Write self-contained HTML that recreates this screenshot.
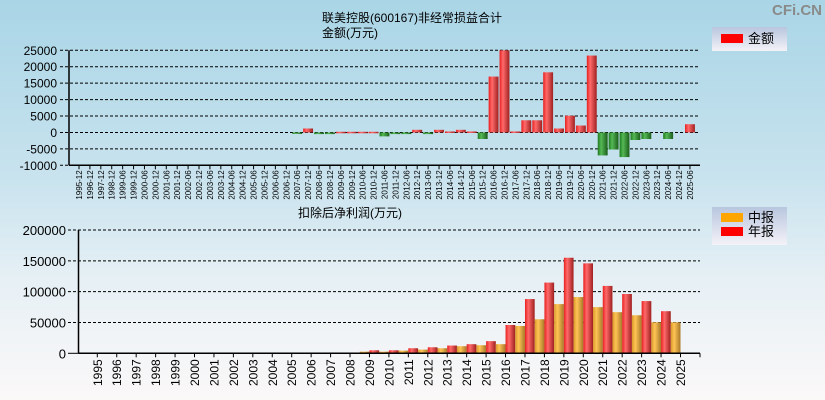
<!DOCTYPE html>
<html><head><meta charset="utf-8">
<style>
body{margin:0;}
#wrap{width:825px;height:400px;position:relative;overflow:hidden;background:linear-gradient(#a9d5e6 0%,#c9e3ee 45%,#e6f0f5 70%,#fbf8f8 100%);font-family:"Liberation Sans","Noto Sans CJK SC",sans-serif;}
svg{position:absolute;left:0;top:0;}
</style></head><body>
<div id="wrap">
<svg id="s" width="825" height="400">
<defs>
<linearGradient id="gr" x1="0" x2="1"><stop offset="0" stop-color="#e82020"/><stop offset="0.35" stop-color="#ff6a6a"/><stop offset="1" stop-color="#a02020"/></linearGradient>
<linearGradient id="gg" x1="0" x2="1"><stop offset="0" stop-color="#1d7a1d"/><stop offset="0.35" stop-color="#55b855"/><stop offset="1" stop-color="#1a5e1a"/></linearGradient>
<linearGradient id="go" x1="0" x2="1"><stop offset="0" stop-color="#d8992a"/><stop offset="0.35" stop-color="#ffc455"/><stop offset="1" stop-color="#a8782a"/></linearGradient>
<linearGradient id="lg" x1="0" y1="0" x2="0" y2="1"><stop offset="0" stop-color="#b8c6de"/><stop offset="1" stop-color="#f4f2f8"/></linearGradient>
</defs>
</svg>
</div>
<script>
const topCats=["1995-12","1996-12","1997-12","1998-12","1999-06","1999-12","2000-06","2000-12","2001-06","2001-12","2002-06","2002-12","2003-06","2003-12","2004-06","2004-12","2005-06","2005-12","2006-06","2006-12","2007-06","2007-12","2008-06","2008-12","2009-06","2009-12","2010-06","2010-12","2011-06","2011-12","2012-06","2012-12","2013-06","2013-12","2014-06","2014-12","2015-06","2015-12","2016-06","2016-12","2017-06","2017-12","2018-06","2018-12","2019-06","2019-12","2020-06","2020-12","2021-06","2021-12","2022-06","2022-12","2023-06","2023-12","2024-06","2024-12","2025-06"];
const topVals=[0,0,0,0,0,0,0,0,0,0,0,0,0,0,0,0,0,0,0,0,-300,1200,-500,-500,200,200,200,200,-1200,-500,-500,800,-500,800,300,800,300,-2000,17000,25000,300,3700,3700,18300,1200,5100,2100,23400,-7000,-5200,-7500,-2300,-2000,0,-2000,0,2500];
const topTicks=[25000,20000,15000,10000,5000,0,-5000,-10000];
const botYears=["1995","1996","1997","1998","1999","2000","2001","2002","2003","2004","2005","2006","2007","2008","2009","2010","2011","2012","2013","2014","2015","2016","2017","2018","2019","2020","2021","2022","2023","2024","2025"];
const midVals=[0,0,0,0,0,0,0,0,0,0,0,0,1000,500,2700,2700,4400,6000,8200,11500,13100,14800,44300,55200,79800,91200,74900,66700,61700,50300,50300];
const annVals=[0,0,0,0,0,0,0,0,0,0,0,0,1000,1000,4900,4900,8200,9800,12600,14800,19700,45900,88000,114700,155000,145900,109300,96200,84700,68300,null];
const botTicks=[200000,150000,100000,50000,0];

const S=document.getElementById('s');const NS="http://www.w3.org/2000/svg";
function el(t,a,txt){const e=document.createElementNS(NS,t);for(const k in a)e.setAttribute(k,a[k]);if(txt!=null)e.textContent=txt;S.appendChild(e);return e;}

let t=el('text',{x:412,y:22,'font-size':12,'text-anchor':'middle',fill:'#000'},'联美控股(600167)非经常损益合计');

t=el('text',{x:350,y:37,'font-size':12,'text-anchor':'middle',fill:'#000'},'金额(万元)');

t=el('text',{x:350,y:217,'font-size':12,'text-anchor':'middle',fill:'#000'},'扣除后净利润(万元)');

t=el('text',{x:822,y:15,'font-size':15,'text-anchor':'end',fill:'#8a8a8a','font-weight':'bold'},'CFi.CN');


// top chart
const tx0=69,tx1=700,ty0=50.3,ty1=165.3,tmax=25000,tmin=-10000;
const ty=v=>ty0+(tmax-v)/(tmax-tmin)*(ty1-ty0);
const slot=10.91;
const tcx=i=>79+slot*i;
topTicks.forEach(v=>{
 const y=ty(v);
 let g=el('line',{x1:60,x2:tx1,y1:y,y2:y,stroke:'#000','stroke-dasharray':'3,2','stroke-width':1});
 
 let l=el('text',{x:57,y:y+4.5,'font-size':12,'text-anchor':'end',fill:'#000'},String(v));
 
});
topVals.forEach((v,i)=>{
 if(!v)return;
 const y0=ty(0),y1=ty(v);
 let r=el('rect',{x:tcx(i)-slot/2+0.5,y:Math.min(y0,y1),width:slot-1,height:Math.max(1.5,Math.abs(y1-y0)),fill:v>0?'url(#gr)':'url(#gg)'});
 
});
let a=el('line',{x1:tx0,x2:tx0,y1:ty0,y2:ty1,stroke:'#000','stroke-width':1.5});

a=el('line',{x1:tx0,x2:tx1,y1:ty1,y2:ty1,stroke:'#000','stroke-width':1.5});

topCats.forEach((c,i)=>{
 const x=tcx(i);
 let k=el('line',{x1:x,x2:x,y1:ty1,y2:ty1+4,stroke:'#000'});
 
 let l=el('text',{x:0,y:0,'font-size':8,'text-anchor':'end',fill:'#000',transform:`translate(${x+3},${ty1+5}) rotate(-90)`},c);
 
});

// bottom chart
const bx0=78.5,bx1=700,by0=230,by1=353.3,bmax=200000;
const by=v=>by1-v/bmax*(by1-by0);
const bstep=19.44,bstart=97.3;
const bxx=i=>bstart+i*bstep;
botTicks.forEach(v=>{
 const y=by(v);
 if(v>0){let g=el('line',{x1:68,x2:bx1,y1:y,y2:y,stroke:'#000','stroke-dasharray':'3,2','stroke-width':1});
 }
 else{let g=el('line',{x1:68,x2:bx0,y1:y,y2:y,stroke:'#000'});}
 let l=el('text',{x:66,y:y+5,'font-size':13,'text-anchor':'end',fill:'#000'},String(v));
 
});
botYears.forEach((yr,i)=>{
 const x=bxx(i);
 const m=midVals[i],n=annVals[i];
 if(m){let r=el('rect',{x:x-9.7,y:by(m),width:9.7,height:by1-by(m),fill:'url(#go)'});
  }
 if(n){let r=el('rect',{x:x,y:by(n),width:9.7,height:by1-by(n),fill:'url(#gr)'});
  }
 let k=el('line',{x1:x,x2:x,y1:by1,y2:by1+4,stroke:'#000'});
 
 let l=el('text',{x:0,y:0,'font-size':12,'text-anchor':'end',fill:'#000',transform:`translate(${x+4.5},${by1+6}) rotate(-90)`},yr);
 
});
a=el('line',{x1:bx0,x2:bx0,y1:by0,y2:by1,stroke:'#000','stroke-width':1.5});

a=el('line',{x1:bx0,x2:bx1,y1:by1,y2:by1,stroke:'#000','stroke-width':1.5});

a=el('line',{x1:bx1,x2:bx1,y1:by1,y2:by1+4,stroke:'#000'});


// legends
let lb=el('rect',{x:712,y:27,width:75,height:24,fill:'url(#lg)'});

let sw=el('rect',{x:721,y:34,width:22,height:9,fill:'#ff0000'});

t=el('text',{x:748,y:43,'font-size':13,fill:'#000'},'金额');

lb=el('rect',{x:712,y:207,width:75,height:38,fill:'url(#lg)'});

sw=el('rect',{x:721,y:213,width:22,height:9,fill:'#ffa500'});

t=el('text',{x:748,y:222,'font-size':13,fill:'#000'},'中报');

sw=el('rect',{x:721,y:227,width:22,height:9,fill:'#ff0000'});

t=el('text',{x:748,y:236,'font-size':13,fill:'#000'},'年报');

</script>
</body></html>
